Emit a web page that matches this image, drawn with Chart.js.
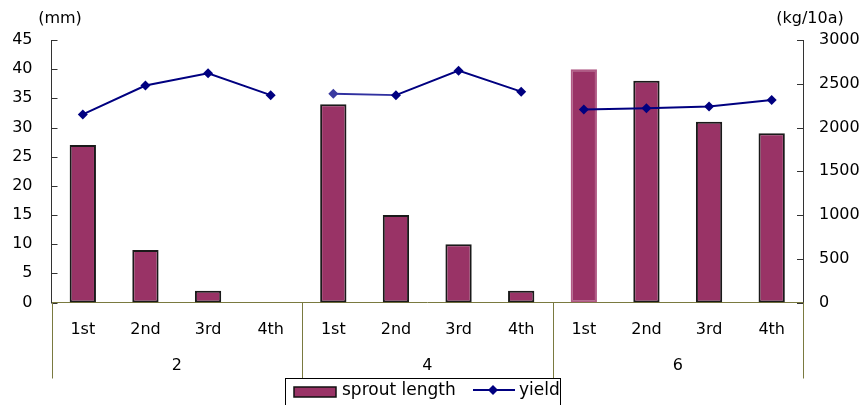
<!DOCTYPE html>
<html>
<head>
<meta charset="utf-8">
<script src="https://cdn.jsdelivr.net/npm/chart.js@4.4.1/dist/chart.umd.min.js"></script>
<style>
  html, body { margin: 0; padding: 0; background: #fff; }
  #wrap { position: relative; width: 868px; height: 405px; overflow: hidden; }
</style>
</head>
<body>
<div id="wrap"><canvas id="myChart" width="868" height="405"></canvas></div>
<script>
// harvest order inside each group, and the group names below them
const rounds = ["1st", "2nd", "3rd", "4th"];
const groups = ["2", "4", "6"];

// sprout length (mm), left axis
const sproutLength = [27, 9, 2, 0, 34, 15, 10, 2, 40, 38, 31, 29];
// yield (kg/10a), right axis
const yieldData = [2150, 2480, 2620, 2370, 2385, 2370, 2650, 2410, 2205, 2220, 2240, 2315];

const mmTicks = [0, 5, 10, 15, 20, 25, 30, 35, 40, 45];
const kgTicks = [0, 500, 1000, 1500, 2000, 2500, 3000];

const labels = [];
groups.forEach(() => rounds.forEach(r => labels.push(r)));

const FONT = "'DejaVu Sans', sans-serif";
const OLIVE = "#7a7a40";

// inner tick marks, group separators, group names, axis titles and the boxed legend
const decorations = {
  id: "decorations",
  afterDraw(chart) {
    const ctx = chart.ctx;
    const area = chart.chartArea;
    const x = chart.scales.x;
    const y = chart.scales.y;
    const y2 = chart.scales.y2;
    ctx.save();

    // tick marks pointing into the plot
    ctx.strokeStyle = "#333";
    ctx.lineWidth = 1;
    mmTicks.forEach(v => {
      const py = Math.round(y.getPixelForValue(v)) + 0.5;
      ctx.beginPath(); ctx.moveTo(area.left, py); ctx.lineTo(area.left + 6, py); ctx.stroke();
    });
    kgTicks.forEach(v => {
      const py = Math.round(y2.getPixelForValue(v)) + 0.5;
      ctx.beginPath(); ctx.moveTo(area.right - 6, py); ctx.lineTo(area.right, py); ctx.stroke();
    });

    // vertical separators between groups
    const step = x.getPixelForValue(1) - x.getPixelForValue(0);
    ctx.strokeStyle = OLIVE;
    for (let g = 0; g <= groups.length; g++) {
      const px = Math.round(x.getPixelForValue(g * rounds.length) - step / 2) + 0.5;
      ctx.beginPath(); ctx.moveTo(px, area.bottom); ctx.lineTo(px, area.bottom + 76); ctx.stroke();
    }

    // group names
    ctx.fillStyle = "#000";
    ctx.font = "16px " + FONT;
    ctx.textAlign = "center";
    ctx.textBaseline = "middle";
    groups.forEach((g, i) => {
      const a = x.getPixelForValue(i * rounds.length);
      const b = x.getPixelForValue(i * rounds.length + rounds.length - 1);
      ctx.fillText(g, (a + b) / 2, 366);
    });

    // axis titles
    ctx.fillText("(mm)", 60, 19);
    ctx.fillText("(kg/10a)", 810, 19);

    // legend box
    const lx = 285.5, ly = 378.5;
    ctx.fillStyle = "#fff";
    ctx.fillRect(lx, ly, 275, 30);
    ctx.strokeStyle = "#000";
    ctx.strokeRect(lx, ly, 275, 30);

    ctx.fillStyle = "#993366";
    ctx.fillRect(294, 387, 42, 10);
    ctx.strokeStyle = "#111";
    ctx.lineWidth = 1.5;
    ctx.strokeRect(294, 387, 42, 10);

    ctx.font = "17px " + FONT;
    ctx.fillStyle = "#000";
    ctx.textAlign = "left";
    ctx.fillText("sprout length", 342, 391);

    ctx.strokeStyle = "#000080";
    ctx.lineWidth = 2;
    ctx.beginPath(); ctx.moveTo(473, 390); ctx.lineTo(515, 390); ctx.stroke();
    ctx.fillStyle = "#000080";
    ctx.beginPath();
    ctx.moveTo(493, 385); ctx.lineTo(498, 390); ctx.lineTo(493, 395); ctx.lineTo(488, 390);
    ctx.closePath(); ctx.fill();
    ctx.fillStyle = "#000";
    ctx.fillText("yield", 519, 391);

    ctx.restore();
  }
};

new Chart(document.getElementById("myChart"), {
  data: {
    labels: labels,
    datasets: [
      {
        type: "line",
        label: "yield",
        data: yieldData,
        yAxisID: "y2",
        borderColor: "#000080",
        borderWidth: 2,
        pointStyle: "rectRot",
        pointRadius: 5,
        pointBackgroundColor: yieldData.map((v, i) => i === 4 ? "#3a3aa0" : "#000080"),
        pointBorderColor: yieldData.map((v, i) => i === 4 ? "#3a3aa0" : "#000080"),
        pointBorderWidth: 0,
        tension: 0,
        segment: {
          // no line across a group boundary
          borderColor: c => (c.p0DataIndex % rounds.length === rounds.length - 1) ? "rgba(0,0,0,0)"
            : (c.p0DataIndex === 4 ? "#3030a0" : "#000080")
        },
        order: 0
      },
      {
        type: "bar",
        label: "sprout length",
        data: sproutLength,
        yAxisID: "y",
        backgroundColor: "#993366",
        borderColor: sproutLength.map((v, i) => i === 8 ? "#b05a85" : "#1a1a1a"),
        borderWidth: 2,
        borderSkipped: false,
        barPercentage: 0.42,
        categoryPercentage: 1,
        order: 1
      }
    ]
  },
  options: {
    responsive: false,
    animation: false,
    layout: { padding: { top: 40, left: 0, right: 0, bottom: 0 } },
    plugins: {
      legend: { display: false },
      tooltip: { enabled: false }
    },
    scales: {
      x: {
        offset: true,
        grid: { display: false },
        border: { display: true, color: OLIVE, width: 1 },
        ticks: { color: "#000", font: { family: FONT, size: 16 }, padding: 10, maxRotation: 0 },
        afterFit: s => { s.height = 102.5; }
      },
      y: {
        position: "left",
        min: 0,
        max: 45,
        afterBuildTicks: s => { s.ticks = mmTicks.map(v => ({ value: v })); },
        grid: { display: false },
        border: { display: true, color: "#333", width: 1 },
        ticks: { color: "#000", font: { family: FONT, size: 16 }, padding: 11 },
        afterFit: s => { s.width = 51.5; }
      },
      y2: {
        position: "right",
        min: 0,
        max: 3000,
        afterBuildTicks: s => { s.ticks = kgTicks.map(v => ({ value: v })); },
        grid: { display: false },
        border: { display: true, color: "#333", width: 1 },
        ticks: {
          color: "#000",
          font: { family: FONT, size: 16 },
          padding: 8,
          callback: v => String(v)
        },
        afterFit: s => { s.width = 65; }
      }
    }
  },
  plugins: [decorations]
});
</script>
</body>
</html>
